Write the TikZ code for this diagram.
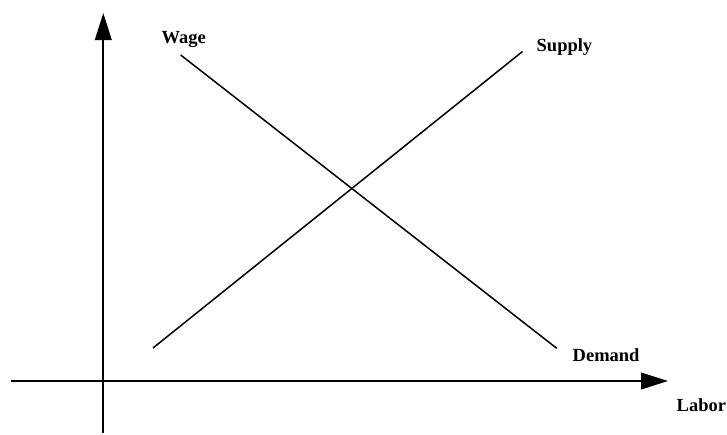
\documentclass[tikz,border=0pt]{standalone}
\usepackage{fontspec}
\setmainfont{Liberation Serif}
\usetikzlibrary{arrows.meta}
\begin{document}
\begin{tikzpicture}[x=1pt,y=-1pt,
  axis/.style={line width=2pt,-{Triangle[length=27pt,width=16.6pt]}},
  curve/.style={line width=1.5pt},
  lbl/.style={font=\fontsize{18.5}{20}\selectfont\bfseries,inner sep=0pt}]
\useasboundingbox (0,0) rectangle (727,434);
% axes
\coordinate (yb) at (103.3,433);
\coordinate (yt) at (103.3,13);
\coordinate (xl) at (11,381);
\coordinate (xr) at (668,381);
\draw[axis] (yb) -- (yt);
\draw[axis] (xl) -- (xr);
% curves
\coordinate (s1) at (153,348);
\coordinate (s2) at (522.5,51.5);
\coordinate (d1) at (180.7,55);
\coordinate (d2) at (556.7,348.3);
\draw[curve] (s1) -- (s2);
\draw[curve] (d1) -- (d2);
% labels
\node[lbl,anchor=west] (wage) at (161.5,39) {Wage};
\node[lbl,anchor=west] (supply) at (536.5,47) {Supply};
\node[lbl,anchor=west] (demand) at (572.5,355) {Demand};
\node[lbl,anchor=west] (labor) at (676.5,405) {Labor};
\end{tikzpicture}
\end{document}
